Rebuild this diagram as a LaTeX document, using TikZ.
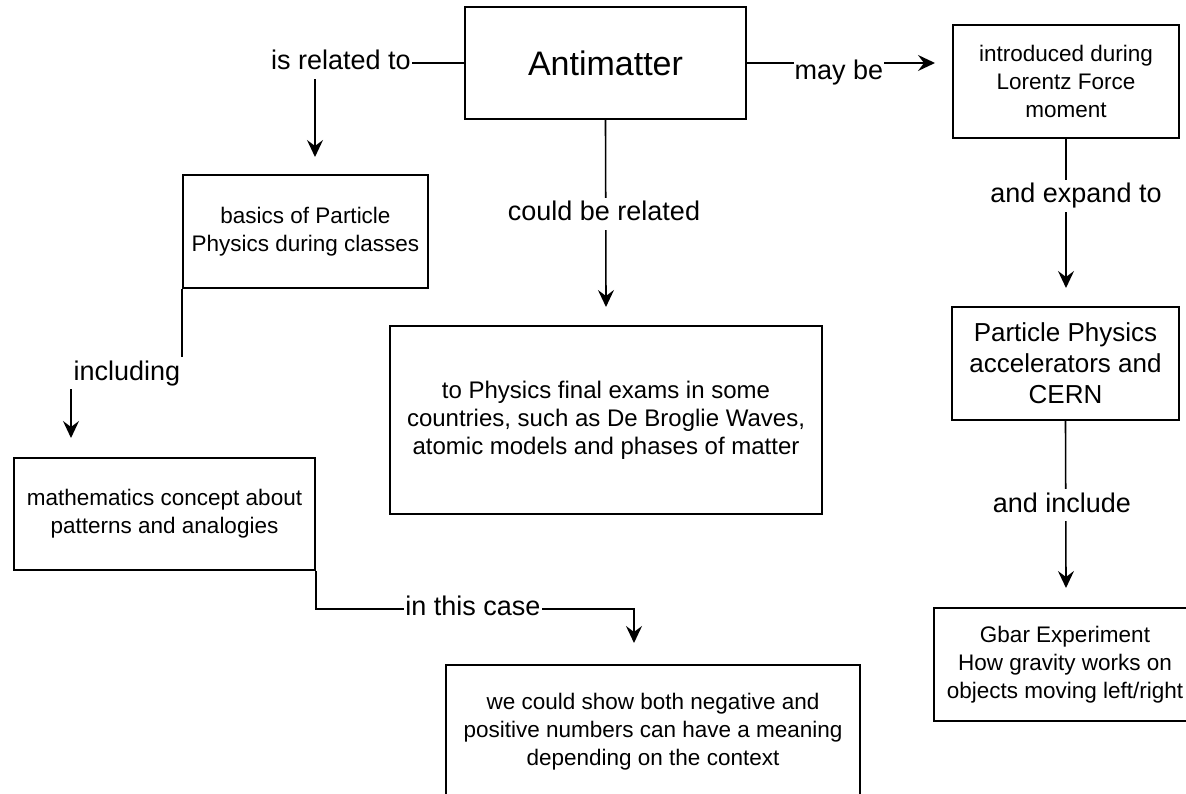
\documentclass[tikz,border=0pt]{standalone}
\usepackage{fontspec}
\setmainfont{Liberation Sans}
\usetikzlibrary{arrows.meta}
\begin{document}
\begin{tikzpicture}[x=1pt,y=-1pt,
  box/.style={draw, line width=1.6pt, inner sep=0pt, align=center, fill=white,
              font=\fontsize{22.5}{28}\selectfont},
  lbl/.style={fill=white, inner xsep=1pt, inner ysep=3pt, text height=20pt, text depth=6pt,
              font=\fontsize{27}{30}\selectfont},
  arr/.style={line width=1.6pt, -{Stealth[length=17pt,width=16pt,inset=6pt]}}]
\useasboundingbox[fill=white] (0,0) rectangle (1186,794);

% boxes
\node[box, minimum width=281pt, minimum height=112pt, font=\fontsize{34}{40}\selectfont] (anti) at (605.5,63) {Antimatter};
\node[box, minimum width=226pt, minimum height=113pt] (lor) at (1066,81.5) {introduced during\\Lorentz Force\\moment};
\node[box, minimum width=245pt, minimum height=113pt] (basics) at (305.5,231.5) {basics of Particle\\Physics during classes};
\node[box, minimum width=432pt, minimum height=188pt, font=\fontsize{24}{28}\selectfont] (exams) at (606,420) {to Physics final exams in some\\countries, such as De Broglie Waves,\\atomic models and phases of matter};
\node[box, minimum width=227pt, minimum height=113pt, font=\fontsize{26}{31}\selectfont] (cern) at (1065.5,363.5) {Particle Physics\\accelerators and\\CERN};
\node[box, minimum width=301pt, minimum height=112pt] (math) at (164.5,514) {mathematics concept about\\patterns and analogies};
\node[box, minimum width=262pt, minimum height=113pt] (gbar) at (1065,664.5) {Gbar Experiment\\How gravity works on\\objects moving left/right};
\node[box, minimum width=414pt, minimum height=134pt] (show) at (653,732) {we could show both negative and\\positive numbers can have a meaning\\depending on the context};

% connector ends
\coordinate (t1) at (315,157);
\coordinate (t2) at (935,63);
\coordinate (t3) at (606,307);
\coordinate (t4) at (1066,288);
\coordinate (t5) at (1066,588);
\coordinate (t6) at (71,438);
\coordinate (t7) at (634,643);

% connectors
\draw[arr] (anti.west) -| (t1);
\draw[arr] (anti.east) -- (t2);
\draw[arr] (anti.south) -- (t3);
\draw[arr] (lor.south) -- (t4);
\draw[arr] (cern.south) -- (t5);
\draw[arr] (basics.south west) -- ++(0,84) -| (t6);
\draw[arr] (math.south east) -- ++(0,38) -| (t7);

% labels
\node[lbl] (l1) at (341,63) {is related to};
\node[lbl] (l2) at (839,73) {may be};
\node[lbl] (l3) at (604,214) {could be related};
\node[lbl] (l4) at (1076,196) {and expand to};
\node[lbl] (l5) at (1062,505) {and include};
\node[lbl, minimum width=116pt] (l6) at (127,373) {including};
\node[lbl] (l7) at (473,608) {in this case};
\end{tikzpicture}
\end{document}
